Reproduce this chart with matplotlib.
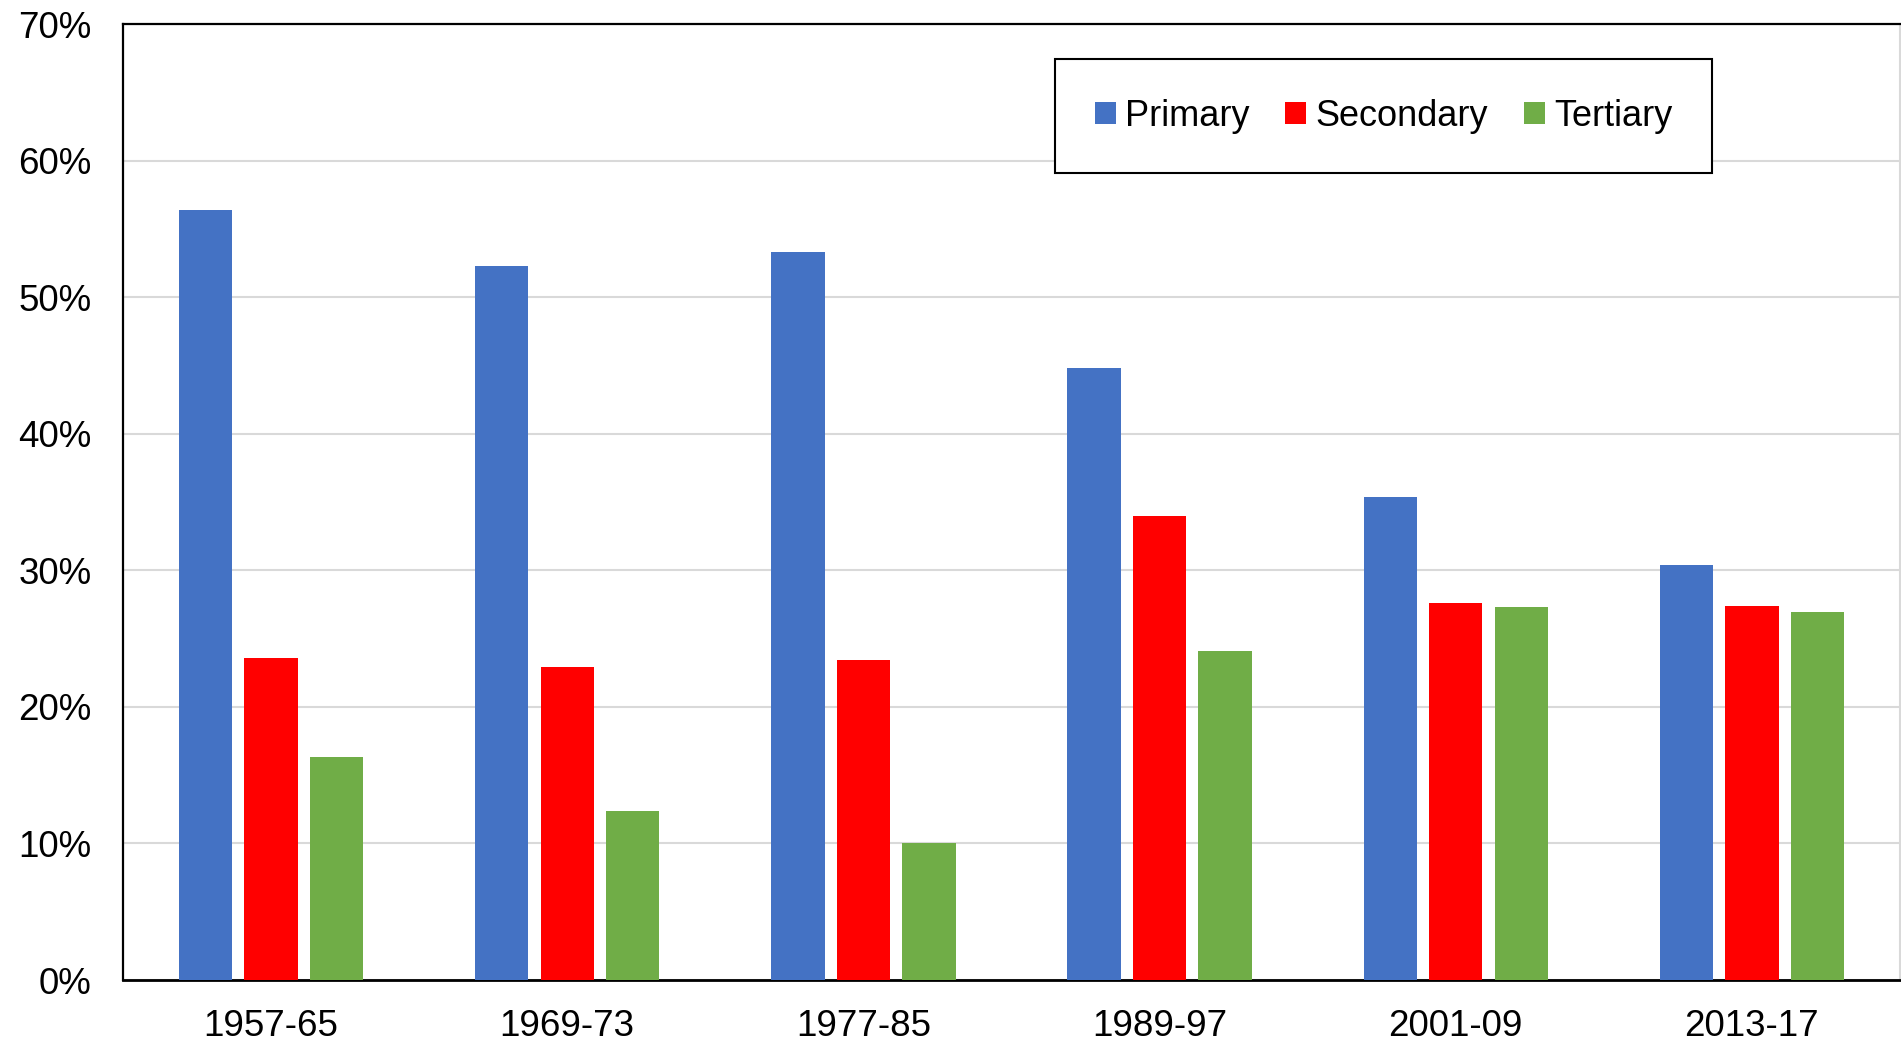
import numpy as np
import matplotlib.pyplot as plt
from matplotlib.ticker import FuncFormatter

periods = ['1957-65', '1969-73', '1977-85', '1989-97', '2001-09', '2013-17']
primary = [56.4, 52.3, 53.3, 44.8, 35.4, 30.4]
secondary = [23.6, 22.9, 23.4, 34.0, 27.6, 27.4]
tertiary = [16.3, 12.35, 10.0, 24.1, 27.3, 26.95]

plt.rcParams['font.family'] = ['Liberation Sans', 'DejaVu Sans']

fig = plt.figure(figsize=(19.01, 10.43), dpi=100)
ax = fig.add_axes([123 / 1901, 1 - 980 / 1043, 1777 / 1901, 956 / 1043])

x = np.arange(len(periods))
w = 0.18
off = 0.221
ax.bar(x - off, primary, w, color='#4472C4', label='Primary', zorder=3)
ax.bar(x, secondary, w, color='#FF0000', label='Secondary', zorder=3)
ax.bar(x + off, tertiary, w, color='#70AD47', label='Tertiary', zorder=3)

ax.set_xlim(-0.5, len(periods) - 0.5)
ax.set_ylim(0, 70)
ax.set_yticks(range(0, 71, 10))
ax.yaxis.set_major_formatter(FuncFormatter(lambda v, p: f'{v:.0f}%'))
ax.set_xticks(x)
ax.set_xticklabels(periods)
ax.tick_params(axis='both', length=0, labelsize=26.5)
ax.tick_params(axis='y', pad=22.5)
ax.tick_params(axis='x', pad=21)

ax.grid(axis='y', color='#d9d9d9', linewidth=1.5, zorder=0)
for s in ['top', 'left', 'bottom']:
    ax.spines[s].set_color('black')
    ax.spines[s].set_linewidth(1.6)
ax.spines['bottom'].set_linewidth(2)
ax.spines['right'].set_color('#d9d9d9')
ax.spines['right'].set_linewidth(1.5)

leg = ax.legend(loc='upper left', bbox_to_anchor=(1055 / 1901, 1 - 59 / 1043),
                bbox_transform=fig.transFigure, ncol=3, fontsize=26,
                handlelength=0.58, handleheight=0.58, handletextpad=0.25,
                columnspacing=1.0, borderpad=1.1, borderaxespad=0,
                fancybox=False, framealpha=1)
leg.get_frame().set_edgecolor('black')
leg.get_frame().set_linewidth(1.5)

fig.savefig('out.png', dpi=100)
